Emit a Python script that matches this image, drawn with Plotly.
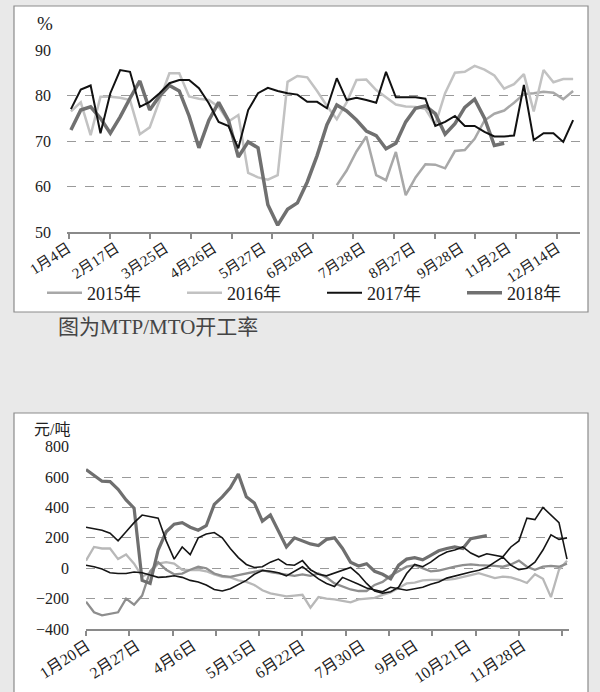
import plotly.graph_objects as go

W, H = 600, 692

# ---------------- Top chart: MTP/MTO operating rate (%), weekly ----------------
top_tick_labels = ["1月4日", "2月17日", "3月25日", "4月26日", "5月27日", "6月28日",
                   "7月28日", "8月27日", "9月28日", "11月2日", "12月14日"]
top_label_week = [-0.3, 4.6, 9.6, 14.5, 19.5, 24.3, 29.6, 34.7, 39.6, 44.4, 49.4]
weeks = list(range(52))

rate_2015 = [None] * 27 + [60.3, 63.5, 67.7, 71.0, 62.5, 61.4, 67.6, 58.1, 62.0, 64.9,
                           64.8, 64.0, 67.8, 68.0, 70.5, 74.5, 76.0, 76.7, 78.4, 80.3,
                           80.5, 80.8, 80.6, 79.2, 81.0]
rate_2016 = [76.5, 78.5, 71.3, 79.7, 79.7, 79.5, 79.0, 71.5, 73.0, 78.8,
             84.9, 84.9, 79.8, 79.3, 79.0, 77.5, 74.3, 75.7, 63.0, 62.0,
             61.5, 62.5, 83.0, 84.3, 84.0, 81.0, 77.7, 74.8, 78.5, 83.4,
             83.5, 81.2, 79.5, 78.0, 77.6, 77.5, 77.0, 73.6, 80.5, 85.0,
             85.2, 86.5, 85.7, 84.4, 81.5, 82.5, 84.7, 76.5, 85.6, 82.9,
             83.6, 83.6]
rate_2017 = [77.0, 81.3, 82.2, 71.7, 80.5, 85.6, 85.2, 77.5, 78.6, 80.5,
             82.7, 83.4, 83.4, 81.6, 78.3, 74.2, 73.3, 68.4, 76.8, 80.5,
             81.7, 81.0, 80.5, 80.2, 78.6, 78.6, 77.2, 83.8, 79.0, 79.5,
             79.0, 78.4, 85.2, 79.6, 79.6, 79.6, 79.3, 73.3, 74.2, 75.5,
             73.3, 73.3, 72.0, 71.0, 71.0, 71.2, 82.3, 70.2, 71.7, 71.7,
             69.8, 74.6]
rate_2018 = [72.4, 76.8, 77.5, 75.0, 71.7, 75.3, 79.4, 83.2, 76.8, 79.9,
             82.2, 81.0, 75.5, 68.5, 74.5, 78.5, 74.5, 66.5, 69.8, 68.5,
             56.0, 51.5, 55.0, 56.4, 61.0, 66.8, 73.6, 77.9, 76.6, 74.6,
             72.2, 71.2, 68.3, 69.5, 74.2, 77.2, 77.7, 76.0, 71.5, 73.8,
             77.4, 79.2, 75.0, 69.0, 69.5]

# ---------------- Bottom chart: spread (元/吨), sampled every 4 trading days ----------------
bot_tick_labels = ["1月20日", "2月27日", "4月6日", "5月15日", "6月22日",
                   "7月30日", "9月6日", "10月21日", "11月28日"]
bot_label_day = [0.5, 25.4, 53.4, 83.3, 107.8, 137.7, 164.2, 190.6, 218.0]
days = list(range(0, 241, 4))

spread_a = [650, 610, 573, 570, 520, 450, 395, -80, -100, 120,
            240, 290, 300, 270, 250, 280, 420, 470, 530, 620,
            470, 430, 310, 350, 240, 140, 200, 180, 160, 150,
            190, 200, 130, 40, 15, 30, -20, -40, -70, 20,
            60, 70, 55, 85, 115, 130, 140, 130, 195, 205,
            215] + [None] * 10
spread_b = [-220, -290, -310, -300, -290, -200, -240, -180, -20, 40,
            -10, -40, -35, -10, 10, 0, -35, -50, -57, -45,
            -35, -20, -13, -25, -35, -40, -50, -40, -50, -35,
            -60, -100, -120, -140, -150, -150, -110, -90, -50, -20,
            10, 20, 0, -20, -15, 0, 10, 20, 25, 20,
            20, 15, 10, 25, 50, 10, -10, 10, 15, 10,
            30]
spread_c = [50, 140, 130, 130, 60, 90, 30, -55, -30, 30,
            40, 30, -10, -13, -10, -20, -40, -57, -60, -80,
            -90, -110, -145, -165, -175, -185, -180, -175, -260, -190,
            -200, -205, -215, -225, -205, -200, -195, -175, -160, -130,
            -100, -95, -80, -76, -76, -76, -70, -55, -45, -32,
            -50, -65, -55, -60, -76, -97, -40, -70, -190, -10,
            50]
spread_d = [270, 260, 250, 230, 180, 240, 300, 350, 340, 330,
            180, 60, 140, 90, 200, 225, 235, 200, 130, 70,
            25, 5, 10, 40, 60, 25, 20, 50, -10, -40,
            -50, -30, -13, 5, -40, -100, -150, -165, -155, -125,
            -35, 25, 10, 40, 80, 107, 120, 140, 100, 75,
            95, 85, 75, 140, 180, 330, 320, 400, 350, 300,
            60]
spread_e = [20, 10, -5, -30, -35, -35, -25, -30, -45, -60,
            -57, -50, -60, -80, -90, -110, -140, -150, -135, -110,
            -80, -40, -15, -20, -30, -50, -20, 10, -30, -70,
            -100, -120, -60, -80, -105, -130, -140, -155, -125, -135,
            -145, -135, -125, -105, -90, -65, -50, -35, -25, -13,
            5, 40, 74, 20, -10, 0, 40, 120, 220, 190,
            200]

SERIF = "Liberation Serif, Noto Sans CJK SC, serif"

def px_x(p):
    return p / W

def px_y(p):
    return 1 - p / H

fig = go.Figure()

top_series = [
    ("2015年", rate_2015, "#a8a8a8", 2.5, 1),
    ("2016年", rate_2016, "#c2c2c2", 2.5, 2),
    ("2018年", rate_2018, "#707070", 3.5, 4),
    ("2017年", rate_2017, "#111111", 2.0, 3),
]
for name, vals, col, w, rank in top_series:
    fig.add_trace(go.Scatter(x=weeks, y=vals, name=name, mode="lines",
                             line=dict(color=col, width=w), legendrank=rank,
                             xaxis="x", yaxis="y", connectgaps=False))

bot_series = [
    (spread_c, "#b8b8b8", 2.3),
    (spread_b, "#8e8e8e", 2.3),
    (spread_a, "#6f6f6f", 3.2),
    (spread_d, "#151515", 1.6),
    (spread_e, "#151515", 1.6),
]
for vals, col, w in bot_series:
    fig.add_trace(go.Scatter(x=days, y=vals, mode="lines", showlegend=False,
                             line=dict(color=col, width=w),
                             xaxis="x2", yaxis="y2"))

tick_font = dict(family=SERIF, size=15, color="#222")

fig.update_layout(
    width=W, height=H,
    margin=dict(l=0, r=0, t=0, b=0, autoexpand=False),
    paper_bgcolor="#e9e9e9",
    plot_bgcolor="rgba(0,0,0,0)",
    font=dict(family=SERIF, color="#222"),
    xaxis=dict(domain=[px_x(67), px_x(580)], range=[-0.4, 51.7], anchor="y",
               automargin=False,
               tickmode="array", tickvals=top_label_week, ticktext=top_tick_labels,
               tickangle=-33, ticks="", tickfont=tick_font,
               showline=True, linecolor="#8a8a8a", linewidth=1.5,
               showgrid=False, zeroline=False,
               minor=dict(tickmode="linear", tick0=-0.2, dtick=4.128, ticks="outside",
                          ticklen=5, tickcolor="#8a8a8a", tickwidth=1.5, showgrid=False)),
    yaxis=dict(domain=[px_y(232), px_y(50)], range=[50, 90], anchor="x",
               automargin=False,
               tickmode="array", tickvals=[50, 60, 70, 80, 90],
               tickfont=dict(family=SERIF, size=16, color="#222"),
               ticklabelstandoff=15,
               showgrid=True, gridcolor="#9a9a9a", griddash="dash", gridwidth=1,
               zeroline=False, showline=False),
    xaxis2=dict(domain=[px_x(86), px_x(569)], range=[0, 241], anchor="y2",
                automargin=False,
                tickmode="array", tickvals=bot_label_day, ticktext=bot_tick_labels,
                tickangle=-33, ticks="", tickfont=dict(family=SERIF, size=16, color="#222"),
                showline=True, linecolor="#8a8a8a", linewidth=1.5,
                showgrid=False, zeroline=False,
                minor=dict(tickmode="linear", tick0=0, dtick=21.6, ticks="outside",
                           ticklen=5, tickcolor="#8a8a8a", tickwidth=1.5, showgrid=False)),
    yaxis2=dict(domain=[px_y(629), px_y(446.7)], range=[-400, 800], anchor="x2",
                automargin=False,
                tickmode="array", tickvals=[-400, -200, 0, 200, 400, 600, 800],
                tickfont=dict(family=SERIF, size=16, color="#222"),
                ticklabelstandoff=16,
                showgrid=True, gridcolor="#9a9a9a", griddash="dash", gridwidth=1,
                zeroline=False, showline=False),
    legend=dict(orientation="h", x=px_x(42), y=px_y(293), xanchor="left", yanchor="middle",
                font=dict(family=SERIF, size=18, color="#222"),
                bgcolor="rgba(0,0,0,0)", entrywidth=90, entrywidthmode="pixels",
                itemwidth=35, traceorder="normal"),
    shapes=[
        dict(type="rect", xref="paper", yref="paper", layer="below",
             x0=px_x(14), x1=px_x(588), y0=px_y(312), y1=px_y(6),
             fillcolor="white", line=dict(color="#8c8c8c", width=1.2)),
        dict(type="rect", xref="paper", yref="paper", layer="below",
             x0=px_x(14), x1=px_x(588), y0=px_y(700), y1=px_y(413),
             fillcolor="white", line=dict(color="#8c8c8c", width=1.2)),
    ],
    annotations=[
        dict(text="%", x=px_x(45), y=px_y(24), xref="paper", yref="paper",
             xanchor="center", yanchor="middle",
             showarrow=False, font=dict(family=SERIF, size=19, color="#222")),
        dict(text="元/吨", x=px_x(32), y=px_y(429), xref="paper", yref="paper",
             xanchor="left", yanchor="middle",
             showarrow=False, font=dict(family=SERIF, size=16, color="#222")),
        dict(text="图为MTP/MTO开工率", x=px_x(56), y=px_y(327), xref="paper", yref="paper",
             xanchor="left", yanchor="middle", showarrow=False,
             font=dict(family=SERIF, size=21, color="#444")),
    ],
)

fig.write_html("out.html", config={"displayModeBar": False},
               post_script="document.body.style.margin='0px';document.body.style.background='#e9e9e9';")
